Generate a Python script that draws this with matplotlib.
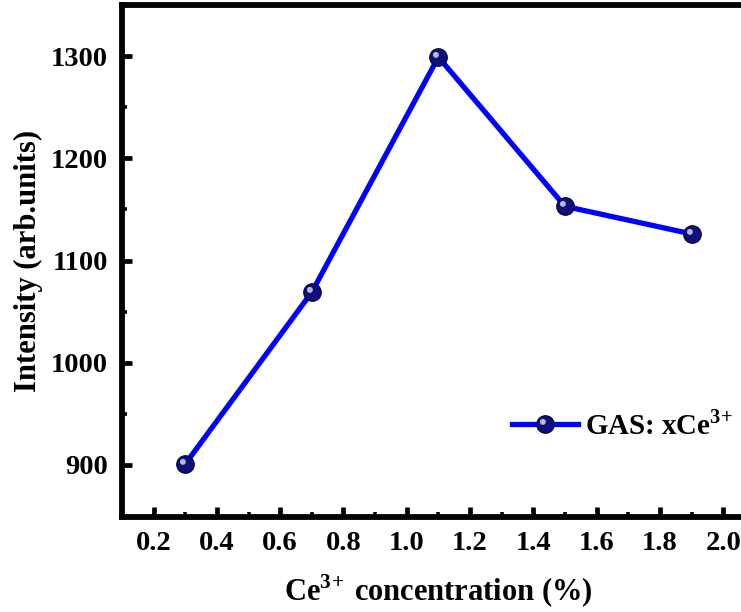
import numpy as np
import matplotlib
matplotlib.use("Agg")
import matplotlib.pyplot as plt
from matplotlib.path import Path
from matplotlib.ticker import MultipleLocator

# Ce3+ concentration (%) vs. emission intensity
conc = [0.3, 0.7, 1.1, 1.5, 1.9]
intensity = [901, 1069, 1299, 1153, 1126]

x_ticks = [0.2, 0.4, 0.6, 0.8, 1.0, 1.2, 1.4, 1.6, 1.8, 2.0]
y_ticks = [900, 1000, 1100, 1200, 1300]

plt.rcParams["font.family"] = ["Liberation Serif", "DejaVu Serif"]
plt.rcParams["font.weight"] = "bold"
plt.rcParams["mathtext.fontset"] = "custom"
plt.rcParams["mathtext.rm"] = "Liberation Serif:bold"
plt.rcParams["mathtext.bf"] = "Liberation Serif:bold"


def _glint():
    """Highlight spot offset to the upper-left, as a marker path (moveto corners keep the scale)."""
    t = np.linspace(0, 2 * np.pi, 40)
    cx, cy, r = -0.30, 0.30, 0.34
    verts = [(-1, -1), (1, 1)] + list(zip(cx + r * np.cos(t), cy + r * np.sin(t)))
    codes = [Path.MOVETO, Path.MOVETO, Path.MOVETO] + [Path.LINETO] * (len(t) - 2) + [Path.CLOSEPOLY]
    return Path(verts, codes)


fig = plt.figure(figsize=(7.41, 6.12), dpi=100)
ax = fig.add_axes([0.1646, 0.155, 0.854, 0.837])

ln, = ax.plot(conc, intensity, color="#0000ff", lw=3.8, marker="o", ms=12.5,
              mfc="#10107a", mec="#05054a", mew=1.0, zorder=3)
gl, = ax.plot(conc, intensity, ls="none", marker=_glint(), ms=12.5,
              mfc="#b8b8e8", mec="none", zorder=4)

ax.set_xlim(0.1, 2.1)
ax.set_ylim(849, 1350)
ax.set_xticks(x_ticks)
ax.set_yticks(y_ticks)
ax.xaxis.set_minor_locator(MultipleLocator(0.1))
ax.yaxis.set_minor_locator(MultipleLocator(50))
ax.set_xticklabels([f"{v:.1f}" for v in x_ticks])

for s in ax.spines.values():
    s.set_linewidth(4.2)
ax.tick_params(which="major", direction="in", length=7.5, width=3.4, labelsize=20.5, pad=10)
ax.tick_params(which="minor", direction="in", length=3.5, width=2.6)

ax.set_xlabel(r"Ce$^{3\!+}\,$concentration (%)", fontsize=22, fontweight="bold", labelpad=12)
ax.set_ylabel("Intensity (arb.units)", fontsize=22, fontweight="bold", labelpad=6)

ax.legend([(ln, gl)], [r"GAS: xCe$^{3\!+}$"], loc="center left", bbox_to_anchor=(0.616, 0.18),
          frameon=False, fontsize=20.8, handlelength=2.3, handletextpad=0.25,
          borderaxespad=0, borderpad=0)

fig.savefig("out.png", dpi=100)
